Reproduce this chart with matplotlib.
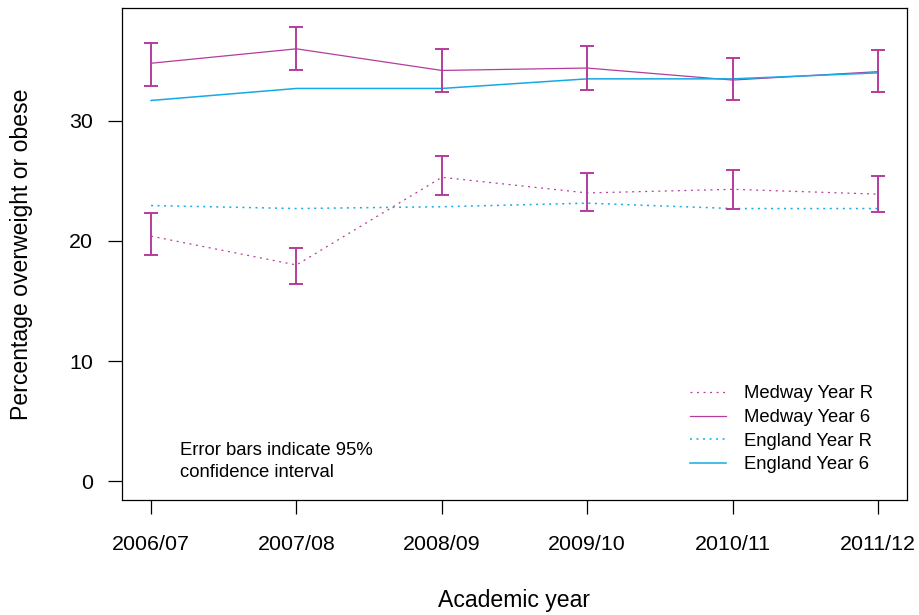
import matplotlib
matplotlib.use('Agg')
import matplotlib.pyplot as plt

plt.rcParams['font.family'] = ['Liberation Sans', 'DejaVu Sans']
plt.rcParams['lines.scale_dashes'] = False

# data
years = ['2006/07', '2007/08', '2008/09', '2009/10', '2010/11', '2011/12']
medway_r = [20.4, 18.0, 25.3, 24.0, 24.3, 23.9]
medway_r_lo = [18.8, 16.45, 23.8, 22.5, 22.7, 22.4]
medway_r_hi = [22.3, 19.45, 27.1, 25.7, 25.9, 25.4]
medway_6 = [34.8, 36.0, 34.2, 34.4, 33.4, 34.1]
medway_6_lo = [32.9, 34.2, 32.4, 32.6, 31.7, 32.4]
medway_6_hi = [36.5, 37.8, 36.0, 36.2, 35.2, 35.9]
england_r = [22.95, 22.7, 22.85, 23.15, 22.7, 22.7]
england_6 = [31.7, 32.7, 32.7, 33.5, 33.5, 34.0]

pink = '#B43C9C'
blue = '#14AAE6'
dots = (0, (1.4, 3.3))

fig = plt.figure(figsize=(9.19, 6.15), dpi=100)
ax = fig.add_axes([122/919, 1-500/615, 785/919, 492/615])

x = list(range(len(years)))

ax.plot(x, medway_r, color=pink, lw=0.9, ls=dots, label='Medway Year R')
ax.plot(x, medway_6, color=pink, lw=0.9, label='Medway Year 6')
ax.plot(x, england_r, color=blue, lw=1.1, ls=dots, label='England Year R')
ax.plot(x, england_6, color=blue, lw=1.1, label='England Year 6')

# 95% confidence intervals for Medway
for v, lo, hi in [(medway_r, medway_r_lo, medway_r_hi), (medway_6, medway_6_lo, medway_6_hi)]:
    err = [[a - b for a, b in zip(v, lo)], [b - a for a, b in zip(v, hi)]]
    ax.errorbar(x, v, yerr=err, fmt='none', ecolor=pink, elinewidth=1.4,
                capsize=4.7, capthick=1.4)

ax.set_xlim(-0.2, 5.2)
ax.set_ylim(-1.57, 39.4)
ax.set_xticks(x)
ax.set_xticklabels(years)
ax.set_yticks([0, 10, 20, 30])

for s in ax.spines.values():
    s.set_linewidth(0.9)
    s.set_color('black')
ax.tick_params(axis='both', direction='out', length=10, width=0.9, labelsize=15.4)
ax.tick_params(axis='x', pad=15)
ax.tick_params(axis='y', pad=11)

fig.text(514/919, 1-600/615, 'Academic year', ha='center', va='center', fontsize=16.6)
fig.text(22/919, 1-254/615, 'Percentage overweight or obese', ha='center', va='center',
         rotation=90, fontsize=16.6)

ax.text(0.2, 3.25, 'Error bars indicate 95%\nconfidence interval', ha='left', va='top',
        fontsize=13.3, linespacing=1.38)

ax.legend(frameon=False, loc='lower left', bbox_to_anchor=(0.7236, 0.054),
          borderaxespad=0, borderpad=0, handlelength=1.95, handletextpad=0.95,
          labelspacing=0.36, fontsize=13.3)

plt.savefig('out.png', dpi=100)
